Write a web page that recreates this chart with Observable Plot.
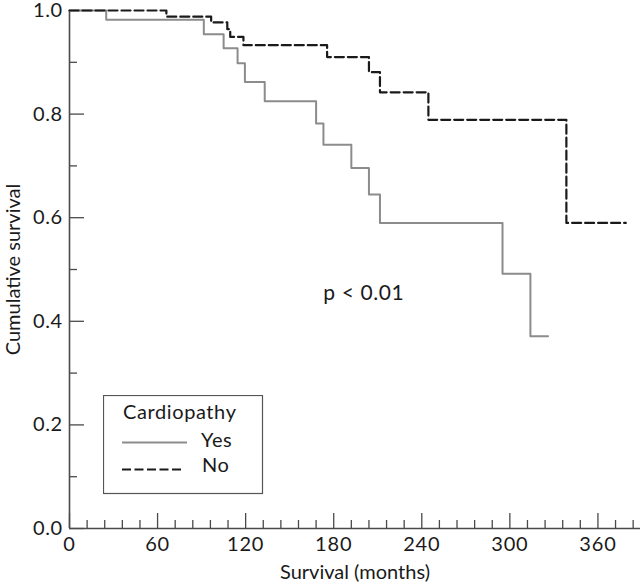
<!DOCTYPE html>
<html><head><meta charset="utf-8">
<script src="https://cdn.jsdelivr.net/npm/d3@7"></script>
<script src="https://cdn.jsdelivr.net/npm/@observablehq/plot@0.6"></script>
<style>
html,body{margin:0;padding:0;background:#fff;}
#wrap{position:relative;width:640px;height:585px;font-family:Lato, sans-serif;}
#legend{position:absolute;left:103px;top:395px;}
#wrap g[aria-label="x-axis tick label"] text{letter-spacing:0.8px;}
#wrap g[aria-label="y-axis tick label"] text{letter-spacing:0.5px;}
#wrap g.plabel text{letter-spacing:0.6px;}
</style></head><body><div id="wrap"></div>
<script>
// Kaplan–Meier steps
const yesTimes = [0, 25, 91.5, 105, 114.5, 119.5, 133, 168, 173, 192, 204, 211.5, 295, 314, 326];
const yesSurv  = [1.0, 0.982, 0.954, 0.927, 0.898, 0.862, 0.825, 0.782, 0.741, 0.696, 0.645, 0.590, 0.492, 0.371, 0.371];
const noTimes  = [0, 66, 96.5, 107.5, 109.5, 118.5, 175.5, 204, 211.5, 244.5, 338.5, 379];
const noSurv   = [1.0, 0.988, 0.977, 0.964, 0.949, 0.933, 0.910, 0.881, 0.842, 0.789, 0.590, 0.590];
const groups = ["Yes", "No"];
const xMajorTicks = [0, 60, 120, 180, 240, 300, 360];
const xMinorTicks = [12, 24, 36, 48, 72, 84, 96, 108, 132, 144, 156, 168, 192, 204, 216, 228, 252, 264, 276, 288, 312, 324, 336, 348, 372, 384];
const yMajorTicks = [0, 0.2, 0.4, 0.6, 0.8, 1.0];
const yMinorTicks = [0.1, 0.3, 0.5, 0.7, 0.9];
const pLabel = "p < 0.01";
const pAt = {x: 200.5, y: 0.441};

const yesData = yesTimes.map((t, i) => ({t, s: yesSurv[i], g: groups[0]}));
const noData = noTimes.map((t, i) => ({t, s: noSurv[i], g: groups[1]}));
const axisColor = "#4a4a4a";

const chart = Plot.plot({
  width: 640, height: 585,
  marginLeft: 69, marginRight: 0, marginTop: 10, marginBottom: 57,
  style: {fontFamily: "Lato, sans-serif", fontSize: "20px", color: "#1a1a1a", background: "#fff", overflow: "visible"},
  x: {domain: [0, 389]},
  y: {domain: [0, 1]},
  marks: [
    Plot.axisX(xMinorTicks, {tickSize: -8, text: null, stroke: axisColor, label: null, strokeWidth: 1.3}),
    Plot.axisX(xMajorTicks, {tickSize: -15, text: null, stroke: axisColor, label: null, strokeWidth: 1.3}),
    Plot.axisX(xMajorTicks, {tickSize: 0, tickPadding: 8, label: null, tickFormat: d => String(d), fontSize: 20}),
    Plot.axisY(yMinorTicks, {tickSize: -8, text: null, stroke: axisColor, label: null, strokeWidth: 1.3}),
    Plot.axisY(yMajorTicks, {tickSize: -15, text: null, stroke: axisColor, label: null, strokeWidth: 1.3}),
    Plot.axisY(yMajorTicks, {tickSize: 0, tickPadding: 7, label: null, tickFormat: d3.format(".1f"), fontSize: 20}),
    Plot.ruleY([0], {stroke: axisColor, strokeWidth: 1.6}),
    Plot.ruleX([0], {stroke: axisColor, strokeWidth: 1.6}),
    Plot.line(yesData, {x: "t", y: "s", curve: "step-after", stroke: "#8c8c8c", strokeWidth: 2}),
    Plot.line(noData, {x: "t", y: "s", curve: "step-after", stroke: "#1a1a1a", strokeWidth: 2.2, strokeDasharray: "9,4"}),
    Plot.text([pLabel], {x: () => pAt.x, y: () => pAt.y, lineAnchor: "bottom", textAnchor: "middle", fontSize: 21, className: "plabel"}),
    Plot.text(["Survival (months)"], {frameAnchor: "bottom", dy: 50, lineAnchor: "bottom", textAnchor: "middle", fontSize: 20}),
    Plot.text(["Cumulative survival"], {frameAnchor: "left", rotate: -90, dx: -56, lineAnchor: "middle", textAnchor: "middle", fontSize: 20})
  ]
});
const wrap = document.getElementById("wrap");
wrap.appendChild(chart);

// Legend box
const lg = d3.create("svg").attr("id", "legend").attr("width", 161).attr("height", 100)
  .style("font-family", "Lato, sans-serif").style("font-size", "20px").style("letter-spacing", "0.6px");
lg.append("rect").attr("x", 0.5).attr("y", 0.5).attr("width", 159).attr("height", 98)
  .attr("fill", "#fff").attr("stroke", "#555").attr("stroke-width", 1.2);
lg.append("text").attr("x", 20).attr("y", 24).attr("fill", "#1a1a1a").text("Cardiopathy");
lg.append("line").attr("x1", 19).attr("x2", 84).attr("y1", 47.5).attr("y2", 47.5)
  .attr("stroke", "#8c8c8c").attr("stroke-width", 2);
lg.append("text").attr("x", 98).attr("y", 52).attr("fill", "#1a1a1a").text(groups[0]);
lg.append("line").attr("x1", 19).attr("x2", 78).attr("y1", 74.5).attr("y2", 74.5)
  .attr("stroke", "#1a1a1a").attr("stroke-width", 2.2).attr("stroke-dasharray", "9,3.5");
lg.append("text").attr("x", 99).attr("y", 77).attr("fill", "#1a1a1a").text(groups[1]);
wrap.appendChild(lg.node());
</script></body></html>
